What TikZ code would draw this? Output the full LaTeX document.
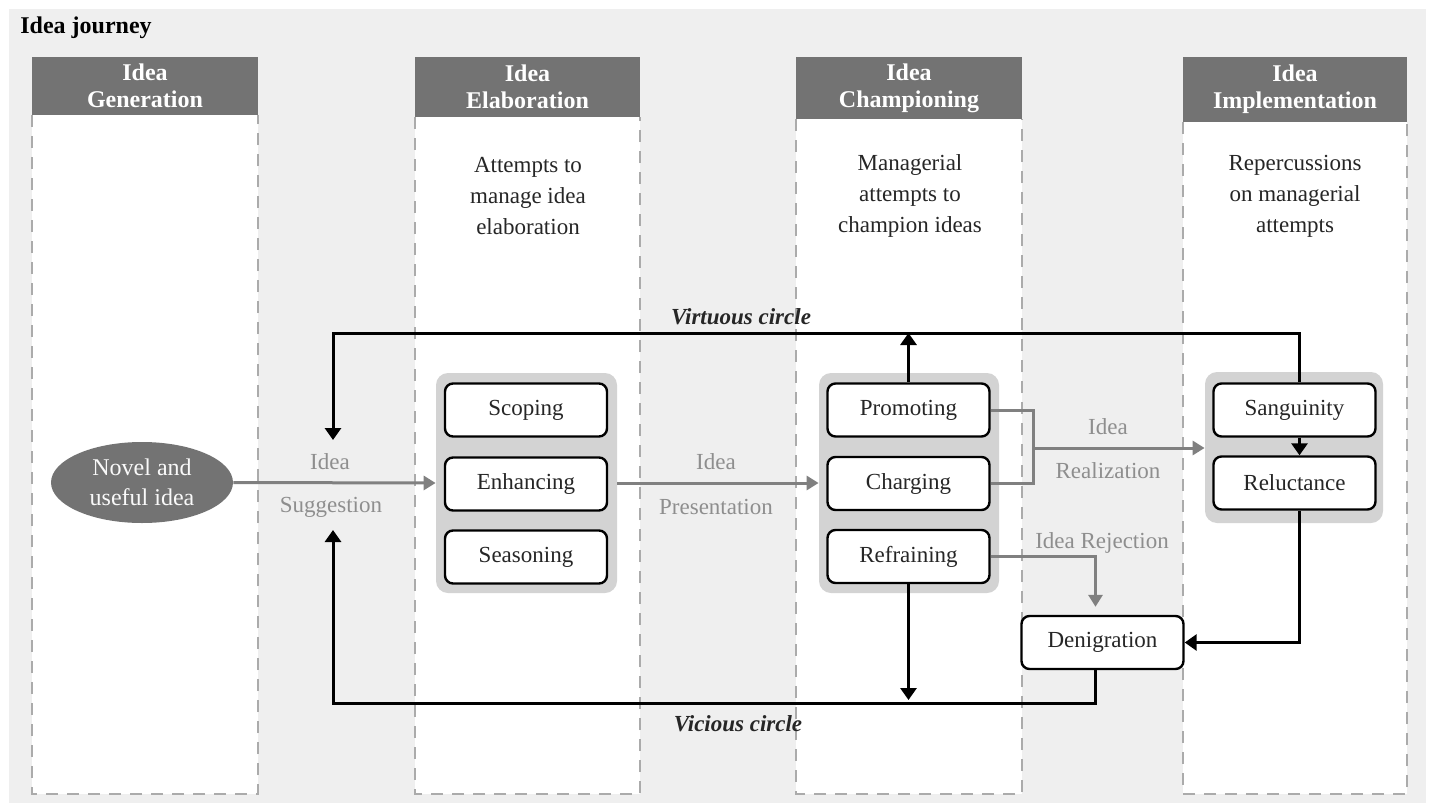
\documentclass[tikz,border=0pt]{standalone}
\usepackage{fontspec}
\setmainfont{Liberation Serif}
\usetikzlibrary{arrows.meta,shapes.geometric}
\definecolor{bggray}{HTML}{EFEFEF}
\definecolor{hdgray}{HTML}{737373}
\definecolor{grpgray}{HTML}{D3D3D3}
\definecolor{arrgray}{HTML}{808080}
\definecolor{lblgray}{HTML}{8E8E8E}
\definecolor{dashgray}{HTML}{ABABAB}
\definecolor{txt}{HTML}{262626}
\newcommand\phasecol[5]{%
  \fill[white] (#1,#5) rectangle (#2,794);
  \draw[colborder] (#1,#5) -- (#1,794) -- (#2,794) -- (#2,#5);
  \fill[hdgray] (#1,57) rectangle (#2,#5);
  \node[headtxt] (#3) at ({(#1+#2)/2},{(57+#5)/2}) {#4};
}
\begin{document}
\begin{tikzpicture}[x=0.5pt,y=-0.5pt,
  headtxt/.style={text=white, font=\fontsize{12}{13.5}\selectfont\bfseries, align=center, inner sep=0pt},
  stepbox/.style={draw=black, line width=1.2pt, rounded corners=4pt, fill=white, minimum width=81pt, minimum height=26.5pt, inner sep=0pt, font=\fontsize{11.5}{14}\selectfont, text=txt},
  grp/.style={fill=grpgray, rounded corners=6pt, inner sep=0pt},
  flowgray/.style={draw=arrgray, line width=1.5pt, -{Triangle[width=7pt,length=6pt]}},
  flowblack/.style={draw=black, line width=1.5pt, -{Triangle[width=8pt,length=6pt]}},
  lbl/.style={text=lblgray, font=\fontsize{11.5}{14}\selectfont, inner sep=0pt},
  subt/.style={align=center, font=\fontsize{11.5}{15.5}\selectfont, text=txt, inner sep=0pt},
  circl/.style={font=\fontsize{11.5}{14}\selectfont\bfseries\itshape, text=txt, inner sep=0pt},
  colborder/.style={draw=dashgray, line width=1.2pt, dash pattern=on 6pt off 4.5pt}]
\useasboundingbox (0,0) rectangle (1430,803);
\fill[white] (0,0) rectangle (1430,803);
\fill[bggray] (9,9) rectangle (1426,803);
\node[anchor=west, font=\fontsize{12}{14}\selectfont\bfseries, inner sep=0pt] (title) at (20,28) {Idea journey};

\phasecol{32}{258}{h1}{Idea\\Generation}{115}
\phasecol{415}{640}{h2}{Idea\\Elaboration}{117}
\phasecol{796}{1022}{h3}{Idea\\Championing}{119}
\phasecol{1183}{1407}{h4}{Idea\\Implementation}{122}

\node[subt] (s2) at (528,196) {Attempts to\\manage idea\\elaboration};
\node[subt] (s3) at (910,196) {Managerial\\attempts to\\champion ideas};
\node[subt] (s4) at (1295,196) {Repercussions\\on managerial\\attempts};

% groups
\node[grp, minimum width=90.5pt, minimum height=110pt] (g2) at (526.5,483) {};
\node[grp, minimum width=90pt, minimum height=110pt] (g3) at (909,483) {};
\node[grp, minimum width=89pt, minimum height=75.5pt] (g4) at (1294,447.5) {};

% idea ellipse
\node[ellipse, fill=hdgray, minimum width=91pt, minimum height=40.5pt, inner sep=0pt, align=center, text=white!95!gray, font=\fontsize{12}{15}\selectfont] (idea) at (142,482.5) {Novel and\\useful idea};

% boxes
\node[stepbox] (scoping) at (526,410) {Scoping};
\node[stepbox] (enhancing) at (526,484) {Enhancing};
\node[stepbox] (seasoning) at (526,557) {Seasoning};
\node[stepbox] (promoting) at (908.5,410) {Promoting};
\node[stepbox] (charging) at (908.5,483.5) {Charging};
\node[stepbox] (refraining) at (908.5,556.5) {Refraining};
\node[stepbox] (sanguinity) at (1294.5,410) {Sanguinity};
\node[stepbox] (reluctance) at (1294.5,483) {Reluctance};
\node[stepbox] (denigration) at (1102.5,642.5) {Denigration};

% coordinates
\coordinate (vtop) at (333,333);
\coordinate (vend) at (333,440);
\coordinate (vbot) at (333,703);
\coordinate (vicend) at (333,530);
\coordinate (junc) at (1033,448);

% gray flows
\draw[flowgray] (idea.east) -- (g2.west);
\draw[flowgray] (g2.east) -- (g3.west);
\draw[draw=arrgray, line width=1.5pt] (promoting.east) -| (junc |- charging.east) -- (charging.east);
\draw[flowgray] (junc) -- (g4.west |- junc);
\draw[flowgray, shorten >=4pt] (refraining.east) -| ([xshift=-3.5pt]denigration.north);

% black flows
\draw[flowblack] ([xshift=2.5pt]sanguinity.north) |- (vtop) -- (vend);
\draw[flowblack] (promoting.north) -- (promoting.north |- vtop);
\draw[flowblack] ([xshift=-3.5pt]denigration.south) |- (vbot) -- (vicend);
\draw[flowblack] (refraining.south) -- ([yshift=1.5pt]refraining.south |- vbot);
\draw[flowblack] ([xshift=2.5pt]sanguinity.south) -- ([xshift=2.5pt]reluctance.north);
\draw[flowblack] ([xshift=2.5pt]reluctance.south) |- (denigration.east);

% labels
\node[lbl] (l1a) at (330,462) {Idea};
\node[lbl] (l1b) at (331,507) {Suggestion};
\node[lbl] (l2a) at (716,462) {Idea};
\node[lbl] (l2b) at (716,507) {Presentation};
\node[lbl] (l3a) at (1108,427) {Idea};
\node[lbl] (l3b) at (1108,471) {Realization};
\node[lbl] (l4) at (1102,543) {Idea Rejection};
\node[circl] (virt) at (741,317) {Virtuous circle};
\node[circl] (vic) at (738,724) {Vicious circle};
\end{tikzpicture}
\end{document}
